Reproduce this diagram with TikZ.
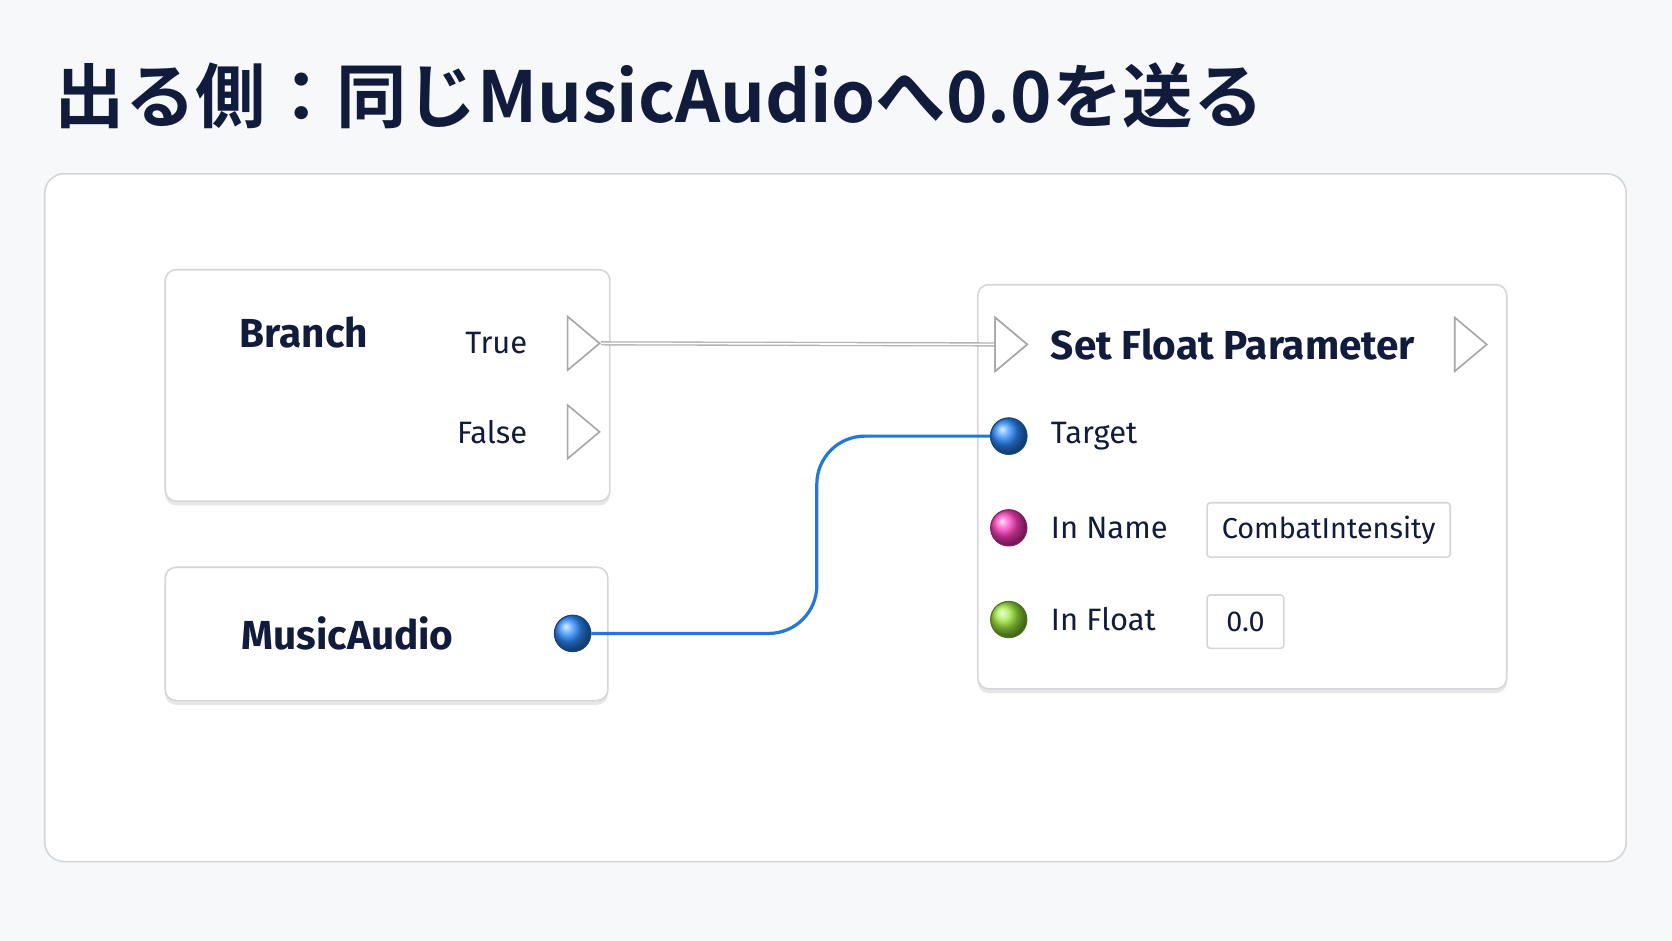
\documentclass[tikz,border=0pt]{standalone}
\usepackage{fontspec}
\setmainfont{Fira Sans}
\newfontfamily\cjkbold[BoldFont={* Bold}]{Noto Sans CJK JP}
\usetikzlibrary{shapes.geometric,shadows,positioning}
\definecolor{ink}{HTML}{111B3C}
\definecolor{bgray}{HTML}{F7F8FA}
\definecolor{edge}{HTML}{D4D6DA}
\definecolor{pinblue}{HTML}{2A8BFF}
\definecolor{pinpink}{HTML}{FF3DBE}
\definecolor{pingreen}{HTML}{9BE63A}
\begin{document}
\begin{tikzpicture}[x=1pt,y=-1pt]
    \tikzstyle{block}=[draw=edge,line width=1.5pt,fill=white,rounded corners=10pt,
      drop shadow={shadow xshift=0pt,shadow yshift=-4pt,fill=black!18}]
    \tikzstyle{title}=[font=\fontsize{38}{42}\selectfont\bfseries,text=ink]
    \tikzstyle{label}=[font=\fontsize{29}{32}\selectfont,text=ink,anchor=west]
    \tikzstyle{exec}=[isosceles triangle,isosceles triangle apex angle=80,draw=black!35,
      line width=1.5pt,fill=white,minimum height=30pt,inner sep=0pt]
    \tikzstyle{pin}=[circle,minimum size=34pt,inner sep=0pt,line width=1pt]
    \tikzstyle{field}=[draw=edge,line width=1.5pt,fill=white,rounded corners=3pt,
      font=\fontsize{27}{30}\selectfont,text=ink,inner sep=0pt]

    \fill[bgray] (0,0) rectangle (1568,882);
    \node[font=\cjkbold\bfseries\fontsize{66}{70}\selectfont,text=ink,anchor=west] (heading) at (48,90) {出る側：同じMusicAudioへ0.0を送る};
    \draw[draw=edge,line width=1.5pt,fill=white,rounded corners=18pt] (42,163) rectangle (1525,808);

    % Branch
    \draw[block] (155,253) rectangle (572,470);
    \node[title] (branch) at (285,312) {Branch};
    \node[label,anchor=east] (true label) at (498,322) {True};
    \node[label,anchor=east] (false label) at (498,405) {False};
    \node[exec] (true) at (544,322) {};
    \node[exec] (false) at (544,405) {};

    % MusicAudio
    \draw[block] (155,532) rectangle (570,657);
    \node[title] (music) at (326,594) {MusicAudio};
    \node[pin,ball color=pinblue,draw=pinblue!50!black] (music out) at (537,594) {};

    % Set Float Parameter
    \draw[block] (917,267) rectangle (1413,646);
    \node[exec] (set in) at (945,323) {};
    \node[title,anchor=west] (set) at (982,323) {Set Float Parameter};
    \node[exec] (set out) at (1376,323) {};
    \node[pin,ball color=pinblue,draw=pinblue!50!black] (target) at (946,409) {};
    \node[pin,ball color=pinpink,draw=pinpink!50!black] (in name) at (946,495) {};
    \node[pin,ball color=pingreen,draw=pingreen!50!black] (in float) at (946,581) {};
    \node[label] (target label) at (982,409) {Target};
    \node[label] (name label) at (982,495) {In Name};
    \node[label] (float label) at (982,581) {In Float};
    \node[field,minimum width=228pt,minimum height=51pt] (name value) at (1246,497) {CombatIntensity};
    \node[field,minimum width=72pt,minimum height=50pt] (float value) at (1168,583) {0.0};

    % wires
    \draw[black!30,line width=4pt] (true.apex) -- (set in.west);
    \draw[white,line width=1.5pt] (true.apex) -- (set in.west);
    \draw[pinblue!85!black,line width=3pt,rounded corners=45pt] (music out.east) -| (766,409) -- (target.west);
    \node[pin,ball color=pinblue,draw=pinblue!50!black] at (music out) {};
    \node[pin,ball color=pinblue,draw=pinblue!50!black] at (target) {};
    \node[exec] at (set in) {};
\end{tikzpicture}
\end{document}
